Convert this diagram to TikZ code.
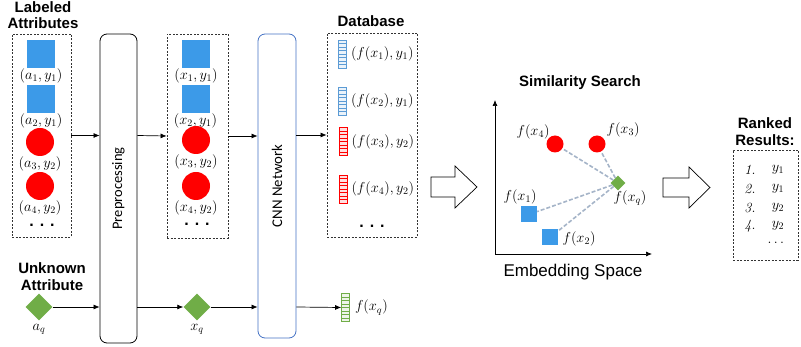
\documentclass[tikz,border=0pt]{standalone}
\usepackage{fontspec}
\usepackage{amsmath}
\usetikzlibrary{positioning,shapes.geometric,arrows.meta,calc}
\newfontfamily\arialf{Liberation Sans}
\newfontfamily\calibf{Carlito}
\definecolor{sqblue}{HTML}{3C9AE8}
\definecolor{dgreen}{HTML}{70AD47}
\definecolor{cnnblue}{HTML}{4472C4}
\definecolor{vblue}{HTML}{5B9BD5}
\definecolor{lgray}{HTML}{A5B4C8}
\tikzset{
  ttl/.style={font=\arialf\bfseries\fontsize{15}{16.5}\selectfont, align=center, inner sep=0pt},
  grp/.style={draw=black!80, dashed, dash pattern=on 2pt off 1.5pt, line width=0.8pt},
  stage/.style={draw=#1, rounded corners=7pt, line width=0.8pt, minimum width=37pt},
  sq/.style={fill=sqblue, minimum size=28pt, inner sep=0pt},
  dot/.style={circle, fill=red, minimum size=28pt, inner sep=0pt},
  qry/.style={diamond, fill=dgreen, minimum size=27pt, inner sep=0pt},
  lbl/.style={font=\fontsize{14}{14}\selectfont, inner sep=0pt},
  dots/.style={font=\arialf\bfseries\fontsize{16}{16}\selectfont, inner sep=0pt},
  vec/.style={draw=#1, fill=#1!12, line width=0.6pt, minimum width=8pt, minimum height=28pt, inner sep=0pt,
    path picture={\foreach \k in {1,...,7}
      \draw[#1, line width=0.4pt]
        ($(path picture bounding box.north west)!\k/8!(path picture bounding box.south west)$) --
        ($(path picture bounding box.north east)!\k/8!(path picture bounding box.south east)$);}},
  flow/.style={-{Latex[length=6pt,width=5pt]}, line width=0.7pt},
  sim/.style={lgray, dashed, dash pattern=on 4pt off 2pt, line width=1.6pt},
}
\begin{document}
\begin{tikzpicture}[x=1pt,y=-1pt]
\useasboundingbox (0,0) rectangle (801,347);
% labeled attributes
\node[ttl] (labt) at (43,15) {Labeled\\Attributes};
\node[grp, minimum width=59pt, minimum height=203pt] (lab) at (41.5,135.5) {};
\node[sq] (a1) at (41,54) {};
\node[lbl, below=0pt of a1] (la1) {$(a_1,y_1)$};
\node[sq] (a2) at (41,99.5) {};
\node[lbl, below=0pt of a2] (la2) {$(a_2,y_1)$};
\node[dot] (a3) at (40,142) {};
\node[lbl, below=0pt of a3] (la3) {$(a_3,y_2)$};
\node[dot] (a4) at (40,186) {};
\node[lbl, below=0pt of a4] (la4) {$(a_4,y_2)$};
\node[dots] (ad) at (42,225) {. . .};
% unknown attribute
\node[ttl] (unt) at (52,276.5) {Unknown\\Attribute};
\node[qry] (aq) at (39,307) {};
\node[lbl, below=3pt of aq] (laq) {$a_q$};
% preprocessing
\node[stage=black, minimum height=309pt] (pre) at (118.5,188.5) {};
\node[rotate=90, font=\calibf\fontsize{14.5}{14.5}\selectfont] (pret) at (pre) {Preprocessing};
% preprocessed attributes
\node[grp, minimum width=61pt, minimum height=204pt] (prep) at (197.5,136) {};
\node[sq] (x1) at (196,54) {};
\node[lbl, below=0pt of x1] (lx1) {$(x_1,y_1)$};
\node[sq] (x2) at (195.5,99) {};
\node[lbl, below=0pt of x2] (lx2) {$(x_2,y_1)$};
\node[dot] (x3) at (196,140) {};
\node[lbl, below=0pt of x3] (lx3) {$(x_3,y_2)$};
\node[dot] (x4) at (196,186) {};
\node[lbl, below=0pt of x4] (lx4) {$(x_4,y_2)$};
\node[dots] (xd) at (197,224) {. . .};
\node[qry] (xq) at (197,307) {};
\node[lbl, below=3pt of xq] (lxq) {$x_q$};
% cnn
\node[stage=cnnblue, minimum width=38pt, minimum height=304pt] (cnn) at (277,186) {};
\node[rotate=90, font=\calibf\fontsize{14.8}{14.8}\selectfont] (cnnt) at (cnn) {CNN Network};
% database
\node[ttl] (dbt) at (371,21) {Database};
\node[grp, minimum width=90pt, minimum height=204pt] (db) at (372,135) {};
\node[vec=vblue] (f1) at (342.5,54) {};
\node[lbl, right=4pt of f1] (lf1) {$(f(x_1),y_1)$};
\node[vec=vblue] (f2) at (342.5,101) {};
\node[lbl, right=4pt of f2] (lf2) {$(f(x_2),y_1)$};
\node[vec=red] (f3) at (343,141.5) {};
\node[lbl, right=4pt of f3] (lf3) {$(f(x_3),y_2)$};
\node[vec=red] (f4) at (343,189) {};
\node[lbl, right=4pt of f4] (lf4) {$(f(x_4),y_2)$};
\node[dots] (fd) at (372,226) {. . .};
\node[vec=dgreen] (fq) at (345.5,307.5) {};
\node[lbl, right=5pt of fq] (lfq) {$f(x_q)$};
% connectors
\draw[flow] (lab.east) -- (lab.east -| pre.west);
\draw[flow] (lab.east -| pre.east) -- (prep.west);
\draw[flow] (prep.east) -- (prep.east -| cnn.west);
\draw[flow] (db.west -| cnn.east) -- (db.west);
\draw[flow] (aq.east) -- (aq -| pre.west);
\draw[flow] (aq -| pre.east) -- (xq.west);
\draw[flow] (xq.east) -- (xq -| cnn.west);
\draw[flow] (xq -| cnn.east) -- (fq.west);
% hollow arrows
\draw[fill=white, line width=0.7pt] (431,177) -- (455,177) -- (455,166) -- (477,187) -- (455,208) -- (455,197) -- (431,197) -- cycle;
\draw[fill=white, line width=0.7pt] (663,178) -- (689,178) -- (689,167) -- (710,187.5) -- (689,208) -- (689,197) -- (663,197) -- cycle;
% similarity search
\node[ttl] (sst) at (580,83) {Similarity Search};
\coordinate (O) at (495,254);
\coordinate (ytop) at (495,100);
\coordinate (xend) at (652,254);
\draw[flow] (O) -- (ytop);
\draw[flow] (O) -- (xend);
\node[font=\arialf\fontsize{17}{17}\selectfont, inner sep=0pt] (est) at (573,272) {Embedding Space};
\node[circle, fill=red, minimum size=17pt, inner sep=0pt] (e4) at (555,144) {};
\node[circle, fill=red, minimum size=17pt, inner sep=0pt] (e3) at (597,144) {};
\node[diamond, fill=dgreen, minimum size=15pt, inner sep=0pt] (eq) at (618,183) {};
\node[fill=sqblue, minimum size=16pt, inner sep=0pt] (e1) at (529,214.5) {};
\node[fill=sqblue, minimum size=16pt, inner sep=0pt] (e2) at (550,237.5) {};
\draw[sim] (eq) -- (e4);
\draw[sim] (eq) -- (e3);
\draw[sim] (eq) -- (e1);
\draw[sim] (eq) -- (e2);
\node[lbl] (le4) at (533,132) {$f(x_4)$};
\node[lbl] (le3) at (623,130) {$f(x_3)$};
\node[lbl] (leq) at (630,198) {$f(x_q)$};
\node[lbl] (le1) at (520,197) {$f(x_1)$};
\node[lbl] (le2) at (579,239) {$f(x_2)$};
% ranked results
\node[ttl] (rrt) at (765,131.5) {Ranked\\Results:};
\node[grp, minimum width=65pt, minimum height=110pt] (rr) at (765.5,205) {};
\foreach \n/\yy/\c in {1/170/1, 2/189/1, 3/207.5/2, 4/226/2}{
  \node[lbl] (rn\n) at (750,\yy) {\textit{\n.}};
  \node[lbl] (ry\n) at (778,\yy) {$y_{\c}$};
}
\node[lbl] (rd) at (777,243) {$\dots$};
\end{tikzpicture}
\end{document}
